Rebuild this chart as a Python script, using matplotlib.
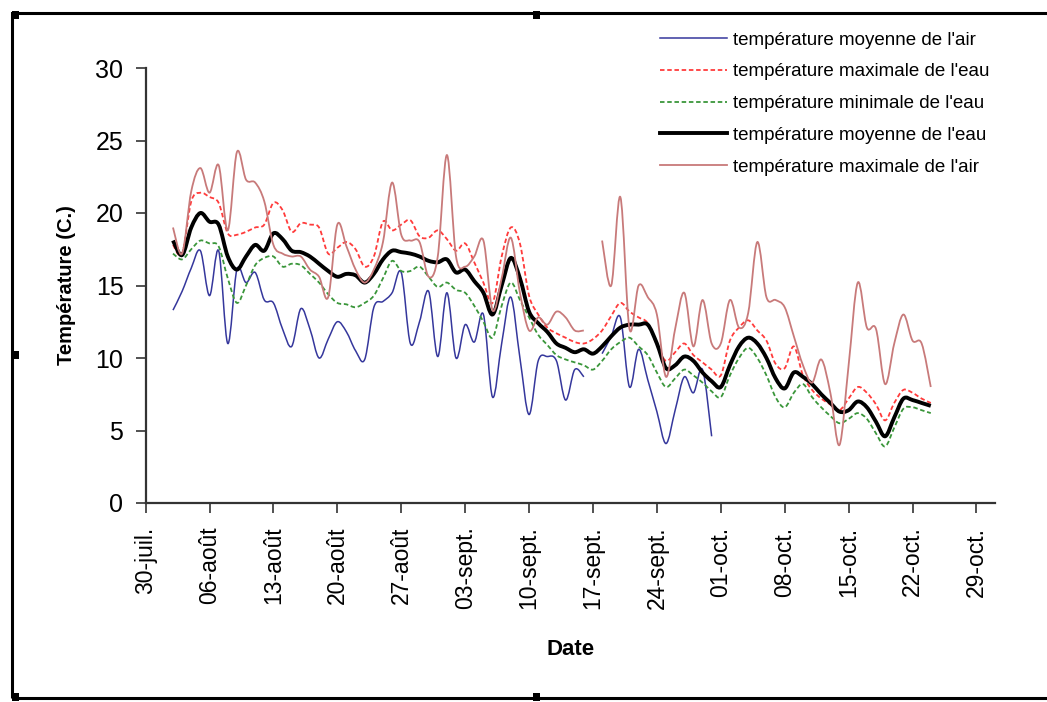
import numpy as np
import matplotlib
matplotlib.use("Agg")
import matplotlib.pyplot as plt
from matplotlib.path import Path
from matplotlib.patches import PathPatch, Rectangle
from matplotlib.lines import Line2D

plt.rcParams['font.family'] = ['Liberation Sans', 'DejaVu Sans']

# ── données (jour 0 = 30 juillet) ────────────────────────────────────────────
days = np.arange(3, 87)

air_mean = [
    13.3, 14.6, 16.2, 17.4, 14.3, 17.4, 11.0, 16.1, 15.2, 15.9,
    14.0, 13.8, 12.0, 10.8, 13.4, 12.0, 10.0, 11.3, 12.5, 11.8,
    10.5, 9.9, 13.5, 13.9, 14.5, 15.9, 11.0, 12.5, 14.6, 10.1,
    14.5, 10.0, 12.3, 11.1, 13.0, 7.3, 11.0, 14.2, 10.0, 6.1,
    9.8, 10.1, 9.8, 7.1, 9.2, 8.7, np.nan, 10.3, 11.5, 12.8,
    8.0, 10.6, 8.5, 6.3, 4.1, 6.4, 8.7, 7.6, 9.2, 4.6,
] + [np.nan] * 24

water_max = [
    17.8, 17.2, 20.8, 21.4, 21.1, 20.7, 18.6, 18.5, 18.7, 19.0,
    19.2, 20.7, 20.2, 18.7, 19.3, 19.2, 19.0, 17.2, 17.6, 18.0,
    17.5, 16.3, 17.0, 19.4, 18.8, 19.2, 19.5, 18.4, 18.3, 18.8,
    18.2, 17.4, 17.9, 16.6, 15.2, 13.8, 17.0, 19.0, 17.9, 14.3,
    13.0, 12.1, 11.7, 11.4, 11.1, 11.0, 11.3, 11.9, 12.9, 13.8,
    13.2, 12.8, 12.4, 10.9, 9.8, 10.4, 11.0, 10.2, 9.7, 9.2,
    8.8, 11.2, 12.1, 12.6, 11.9, 11.2, 9.6, 9.3, 10.8, 8.8,
    7.8, 7.2, 6.8, 6.4, 7.2, 8.0, 7.6, 6.8, 5.7, 6.9,
    7.8, 7.6, 7.2, 6.9,
]

water_min = [
    17.2, 16.8, 17.5, 18.1, 17.9, 17.7, 15.5, 13.8, 15.0, 16.4,
    16.9, 17.0, 16.3, 16.5, 16.4, 15.8, 15.2, 14.4, 13.8, 13.7,
    13.5, 13.8, 14.3, 15.5, 16.7, 16.0, 16.0, 16.3, 15.6, 14.9,
    15.2, 14.7, 14.5, 13.6, 12.5, 11.4, 13.6, 15.2, 14.0, 12.8,
    11.6, 10.9, 10.2, 9.9, 9.7, 9.5, 9.2, 9.8, 10.6, 11.1,
    11.4, 10.8, 10.2, 9.0, 8.0, 8.6, 9.2, 8.8, 8.3, 7.7,
    7.3, 8.8, 10.0, 10.7, 10.0, 8.8, 7.3, 6.6, 7.6, 8.2,
    7.3, 6.6, 6.0, 5.5, 5.8, 6.2, 5.8, 4.8, 3.9, 5.2,
    6.5, 6.6, 6.4, 6.2,
]

water_mean = [
    18.1, 17.1, 19.0, 20.0, 19.4, 19.2, 17.0, 16.1, 17.0, 17.8,
    17.4, 18.6, 18.2, 17.4, 17.3, 17.0, 16.5, 16.0, 15.6, 15.8,
    15.7, 15.2, 15.8, 16.8, 17.4, 17.3, 17.2, 17.0, 16.7, 16.6,
    16.8, 15.9, 16.1, 15.3, 14.5, 13.0, 15.0, 16.9, 15.5, 13.2,
    12.4, 11.8, 11.0, 10.7, 10.4, 10.6, 10.3, 10.8, 11.5, 12.1,
    12.3, 12.3, 12.3, 11.0, 9.3, 9.5, 10.1, 9.8, 9.0, 8.4,
    8.0, 9.5, 10.8, 11.4, 11.0, 10.0, 8.6, 7.9, 9.0, 8.7,
    8.2, 7.5, 6.9, 6.3, 6.4, 7.0, 6.6, 5.6, 4.6, 5.9,
    7.2, 7.1, 6.9, 6.7,
]

air_max = [
    19.0, 17.2, 21.5, 23.1, 21.4, 23.3, 18.8, 24.2, 22.3, 22.1,
    20.8, 17.8, 17.2, 17.0, 17.0, 16.1, 15.6, 14.2, 19.2, 17.7,
    16.1, 15.2, 16.1, 18.0, 22.1, 18.5, 18.1, 18.0, 15.6, 17.0,
    24.0, 17.0, 16.3, 17.0, 18.1, 13.3, 15.5, 18.3, 14.5, 11.9,
    12.8, 12.3, 13.2, 12.8, 11.9, 11.9, np.nan, 18.1, 15.0, 21.1,
    12.0, 15.0, 14.2, 13.0, 8.7, 12.0, 14.5, 10.8, 14.0, 11.0,
    11.0, 14.0, 12.1, 13.1, 18.0, 14.2, 14.0, 13.5, 11.5, 9.5,
    8.3, 9.9, 7.6, 4.0, 9.5, 15.2, 12.1, 12.0, 8.2, 11.0,
    13.0, 11.2, 11.0, 8.0,
]

tick_days = np.arange(0, 92, 7)
tick_labels = ["30-juil.", "06-août", "13-août", "20-août", "27-août",
               "03-sept.", "10-sept.", "17-sept.", "24-sept.", "01-oct.",
               "08-oct.", "15-oct.", "22-oct.", "29-oct."]

series = [
    ("température moyenne de l'air", air_mean, dict(color="#35379c", lw=1.1, ls="-")),
    ("température maximale de l'eau", water_max, dict(color="#ff3b3b", lw=1.3, ls=(0, (2.5, 1.5)))),
    ("température minimale de l'eau", water_min, dict(color="#3a963a", lw=1.3, ls=(0, (2.5, 1.5)))),
    ("température moyenne de l'eau", water_mean, dict(color="black", lw=2.8, ls="-")),
    ("température maximale de l'air", air_max, dict(color="#c87a7a", lw=1.3, ls="-")),
]


# ── courbe lissée façon Excel (Bézier) ───────────────────────────────────────
def smooth_path(x, y):
    x = np.asarray(x, float)
    y = np.asarray(y, float)
    ok = ~np.isnan(y)
    verts, codes = [], []
    i = 0
    n = len(y)
    while i < n:
        if not ok[i]:
            i += 1
            continue
        j = i
        while j < n and ok[j]:
            j += 1
        pts = np.column_stack([x[i:j], y[i:j]])
        m = len(pts)
        if m >= 2:
            verts.append(pts[0])
            codes.append(Path.MOVETO)
            for k in range(m - 1):
                p0 = pts[max(k - 1, 0)]
                p1 = pts[k]
                p2 = pts[k + 1]
                p3 = pts[min(k + 2, m - 1)]
                verts += [p1 + (p2 - p0) / 6, p2 - (p3 - p1) / 6, p2]
                codes += [Path.CURVE4] * 3
        i = j
    return Path(verts, codes)


W, H = 1047, 702
fig = plt.figure(figsize=(W / 100, H / 100), dpi=100)
ax = fig.add_axes([145.6 / W, 1 - 503 / H, 93 * 9.13 / W, 435 / H])

handles = []
for label, vals, st in series:
    ax.add_patch(PathPatch(smooth_path(days, vals), fill=False,
                           edgecolor=st["color"], lw=st["lw"],
                           linestyle=st["ls"], joinstyle="round"))
    handles.append(Line2D([], [], color=st["color"], lw=st["lw"],
                          linestyle=st["ls"], label=label))

ax.set_xlim(0, 93)
ax.set_ylim(0, 30)
ax.set_yticks(range(0, 31, 5))
ax.set_xticks(tick_days)
ax.set_xticklabels(tick_labels, rotation=90)
ax.tick_params(axis="y", labelsize=18, length=7, width=1.2, pad=9, color="#333333")
ax.tick_params(axis="x", labelsize=16.5, length=7, width=1.2, pad=10, color="#333333")
for side in ("top", "right"):
    ax.spines[side].set_visible(False)
for side in ("left", "bottom"):
    ax.spines[side].set_linewidth(1.6)
    ax.spines[side].set_color("#333333")

ax.set_xlabel("Date", fontsize=16, fontweight="bold", labelpad=21)
ax.set_ylabel("Température (C.)", fontsize=14.5, fontweight="bold", labelpad=14)

fig.legend(handles=handles, loc="upper left",
           bbox_to_anchor=(652 / W, 1 - 24 / H), frameon=False,
           fontsize=13.5, handlelength=3.6, handletextpad=0.3,
           labelspacing=0.78, borderaxespad=0)

# ── cadre de l'objet graphique avec poignées ─────────────────────────────────
fig.add_artist(Rectangle((12 / W, 4 / H), 1.2, 1 - 17 / H,
                         transform=fig.transFigure, fill=False,
                         edgecolor="black", lw=2.2))
for px, py in [(15, 15), (536, 15), (15, 355), (15, 697), (536, 697)]:
    fig.add_artist(Rectangle(((px - 3.5) / W, 1 - (py + 4) / H), 7 / W, 8 / H,
                             transform=fig.transFigure, color="black", lw=0))

fig.savefig("out.png", dpi=100)
